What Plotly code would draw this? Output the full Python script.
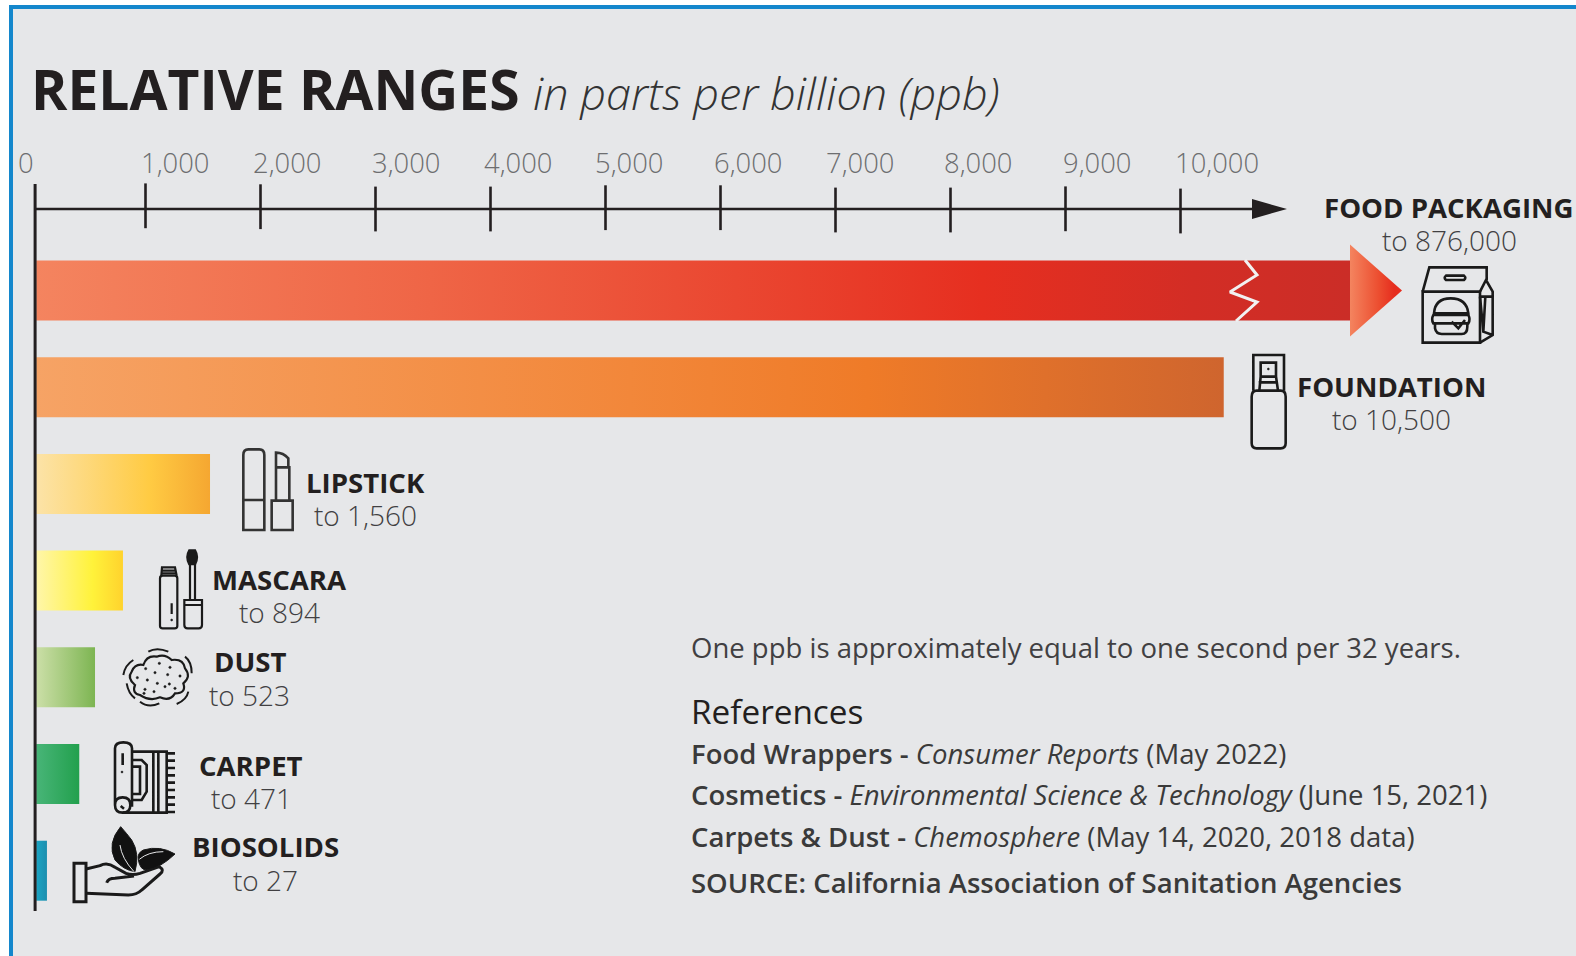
import re, math
import plotly.graph_objects as go

# ---- data ----
categories = ["FOOD PACKAGING", "FOUNDATION", "LIPSTICK", "MASCARA", "DUST", "CARPET", "BIOSOLIDS"]
range_labels = ["to 876,000", "to 10,500", "to 1,560", "to 894", "to 523", "to 471", "to 27"]
bar_start = 50
bar_ends = [11474, 10376, 1561, 804, 561, 424, 143]
axis_ticks = [40, 1000, 2000, 3000, 4000, 5000, 6000, 7000, 8000, 9000, 10000]
axis_tick_labels = ["0", "1,000", "2,000", "3,000", "4,000", "5,000", "6,000", "7,000", "8,000", "9,000", "10,000"]

# ---- styles ----
INK = "#231F20"
BG = "#E6E7E9"
FONT = "Open Sans"
W, H = 1576, 956
gradients = [
    [[0, "#F4845F"], [.3, "#EF6546"], [.72, "#E62F20"], [.88, "#D32D25"], [1, "#CB2D27"]],
    [[0, "#F6A365"], [.5, "#F2873A"], [.7, "#EF7B28"], [1, "#CF652E"]],
    [[0, "#FCE3A8"], [.65, "#FFCB43"], [1, "#F5A731"]],
    [[0, "#FFF6AA"], [.65, "#FFF23A"], [1, "#FFD32D"]],
    [[0, "#CCDFA8"], [1, "#7DB552"]],
    [[0, "#48B578"], [1, "#22A04D"]],
    [[0, "#1AA5C4"], [1, "#1C8EAE"]],
]
Y0, DY = 290.5, 96.7
SX, X0 = 0.115, 30.5


def yval(px):
    return (px - Y0) / DY


def xval(px):
    return (px - X0) / SX


fig = go.Figure()
half = 0.31

# gradient bars
for i, (end, grad) in enumerate(zip(bar_ends, gradients)):
    fig.add_trace(go.Scatter(
        x=[bar_start, end, end, bar_start, bar_start],
        y=[i - half, i - half, i + half, i + half, i - half],
        mode="lines", line=dict(width=0), fill="toself",
        fillgradient=dict(type="horizontal", colorscale=grad, start=bar_start, stop=end),
        hoverinfo="skip", showlegend=False,
    ))

# food packaging arrow head
fig.add_trace(go.Scatter(
    x=[bar_ends[0], xval(1402), bar_ends[0], bar_ends[0]], y=[-0.475, 0, 0.475, -0.475],
    mode="lines", line=dict(width=0), fill="toself",
    fillgradient=dict(type="horizontal", colorscale=[[0, "#F4845F"], [.55, "#EC4E30"], [.85, "#E62D1E"], [1, "#E62D1E"]],
                      start=bar_ends[0], stop=xval(1402)),
    hoverinfo="skip", showlegend=False))

# axis break
fig.add_trace(go.Scatter(
    x=[xval(p) for p in (1245, 1257, 1230, 1257, 1236)],
    y=[yval(p) for p in (260, 275, 292, 302, 321)],
    mode="lines", line=dict(color="#F1F1F1", width=3), hoverinfo="skip", showlegend=False))

# axes
axis_y = yval(209)
tick_center_px = [205.8, 206.7, 209, 209, 207.7, 207.7, 210, 210, 208.8, 211]
fig.add_trace(go.Scatter(x=[axis_ticks[0], xval(1255)], y=[axis_y, axis_y], mode="lines",
                         line=dict(color=INK, width=2.5), hoverinfo="skip", showlegend=False))
fig.add_trace(go.Scatter(x=[axis_ticks[0], axis_ticks[0]], y=[yval(184), yval(911)], mode="lines",
                         line=dict(color=INK, width=3), hoverinfo="skip", showlegend=False))
fig.add_trace(go.Scatter(x=axis_ticks[1:], y=[yval(p) for p in tick_center_px], mode="markers",
                         marker=dict(symbol="line-ns", size=32, line=dict(color=INK, width=2.6)),
                         hoverinfo="skip", showlegend=False))
fig.add_trace(go.Scatter(x=[xval(1252), xval(1287), xval(1252), xval(1252)],
                         y=[yval(199), axis_y, yval(219), yval(199)],
                         mode="lines", line=dict(width=0), fill="toself", fillcolor=INK,
                         hoverinfo="skip", showlegend=False))
# overlay pixel axes carrier for decoration
fig.add_trace(go.Scatter(x=[0], y=[0], xaxis="x2", yaxis="y2", mode="markers", marker=dict(opacity=0),
                         hoverinfo="skip", showlegend=False))

# ---- decoration helpers ----
shapes = [dict(type="rect", xref="x2", yref="y2", x0=11, y0=7, x1=1578, y1=958,
               line=dict(color="#1487CC", width=4), fillcolor=BG, layer="below")]


def icon(ox, oy, d, width=2.6, fill=None, color="#1A1A1A"):
    toks = re.findall(r"[MLQCZ]|-?\d+\.?\d*", d)
    out, k = [], 0
    for t in toks:
        if t.isalpha():
            out.append(t)
            k = 0
        else:
            v = float(t) / 3 + (ox if k % 2 == 0 else oy)
            out.append(f"{v:.2f}")
            k += 1
    shapes.append(dict(type="path", xref="x2", yref="y2", path=" ".join(out), layer="above",
                       line=dict(color=color, width=width),
                       fillcolor=fill if fill else "rgba(0,0,0,0)"))


def dots(ox, oy, pts, r=4):
    for x, y in pts:
        icon(ox, oy, f"M{x-r} {y} Q{x-r} {y-r} {x} {y-r} Q{x+r} {y-r} {x+r} {y} Q{x+r} {y+r} {x} {y+r} Q{x-r} {y+r} {x-r} {y} Z",
             width=0.5, fill="#1A1A1A")


# bag
Z1 = (1150, 180)
icon(*Z1, "M818 335 L990 335 L990 488 L818 488 Z")
icon(*Z1, "M818 335 L838 262 L1010 262 L1010 300 M990 335 L1008 300 L1028 335 L1028 465 L990 488 "
          "M990 350 L1028 350 M1006 350 L1000 455 L1028 465 M990 350 L1000 455")
icon(*Z1, "M888 287 L942 287 Q950 293 942 300 L888 300 Q880 293 888 287 Z")
icon(*Z1, "M852 400 Q855 355 902 355 Q950 355 955 400 Z M850 405 L955 405 Q962 418 955 430 L850 430 Q843 418 850 405 Z "
          "M855 432 L855 445 Q858 462 875 462 L935 462 Q952 462 952 440 L952 432 M905 425 L925 445 L945 420")
# spray bottle
icon(*Z1, "M305 650 Q305 632 320 632 L392 632 Q407 632 407 650 L407 790 Q407 805 392 805 L320 805 Q305 805 305 790 Z")
icon(*Z1, "M310 632 L310 525 L402 525 L402 632 M332 590 L332 548 L378 548 L378 590 M328 632 L332 590 L378 590 L384 632 M326 607 L384 607")
dots(*Z1, [(355, 567)], 3)
# lipstick
Z2 = (0, 430)
icon(*Z2, "M730 300 L730 75 Q730 58 745 58 L778 58 Q793 58 793 75 L793 300 Z M730 210 L793 210", color="#333333")
icon(*Z2, "M815 212 L878 212 L878 300 L815 300 Z M828 212 L828 112 L868 112 L868 212 M828 112 L828 68 Q850 68 865 85 L865 112", color="#333333")
# mascara
icon(*Z2, "M480 445 Q480 437 488 437 L524 437 Q532 437 532 445 L532 588 Q532 595 524 595 L488 595 Q480 595 480 588 Z", width=2.2)
icon(*Z2, "M484 437 L486 412 L525 412 L530 437 M485 422 L527 422 M484 430 L528 430 M515 520 L515 552", width=2.2)
dots(*Z2, [(515, 570)], 3)
icon(*Z2, "M553 510 L606 510 L606 585 Q606 595 596 595 L563 595 Q553 595 553 585 Z M553 525 L606 525 M570 510 L570 400 M585 510 L585 400", width=2.2)
icon(*Z2, "M568 362 L585 362 Q596 380 585 402 L568 402 Q557 380 568 362 Z", fill="#1A1A1A")
# dust
icon(*Z2, "M420 795 Q395 790 405 765 Q380 745 395 725 Q405 700 430 705 Q440 675 470 680 Q495 670 515 690 Q550 685 555 715 "
          "Q575 740 550 760 Q560 790 525 790 Q510 815 480 802 Q450 815 420 795 Z", width=2.2)
icon(*Z2, "M370 735 Q375 705 400 690 M445 665 Q470 650 505 665 M555 680 Q575 695 575 730 M530 822 Q560 810 565 785 "
          "M420 815 Q445 835 478 820 M380 760 Q385 790 405 805", width=2)
dots(*Z2, [(478, 700), (510, 712), (437, 716), (540, 738), (503, 734), (465, 728), (412, 743), (442, 750), (472, 760),
           (508, 762), (435, 778), (462, 785), (525, 775), (495, 770), (432, 790)], 3.5)
# carpet
Z3 = (0, 720)
icon(*Z3, "M345 255 L345 85 Q345 67 370 67 Q396 67 396 85 L396 260 M391 255 Q391 278 368 278 Q345 278 345 255 Q345 232 368 232 Q391 232 391 255 Z")
icon(*Z3, "M396 95 L500 95 L500 278 L368 278 M460 95 L460 278 M475 95 L475 278 M396 120 L425 120 L440 135 L440 215 L425 240 L396 240 "
          "M396 140 L420 140 L420 222 L396 222 M368 100 L368 135 M362 258 L372 266")
icon(*Z3, " ".join(f"M500 {y} L525 {y}" for y in range(100, 280, 22)))
dots(*Z3, [(366, 156)], 3)
# hand and leaves
icon(*Z3, "M222 430 L258 430 L258 545 L222 545 Z", width=3)
icon(*Z3, "M258 447 L300 437 Q322 425 345 442 L378 460 Q398 467 420 460 L478 440 Q495 450 480 462 L425 510 Q410 525 385 525 L258 520 "
          "M320 488 Q325 475 345 475 L402 468", width=3)
icon(*Z3, "M362 320 Q320 370 345 420 Q370 450 405 455 Q420 400 395 360 Q380 340 362 320 Z", fill="#111111", width=1)
icon(*Z3, "M525 402 Q480 375 430 390 Q410 400 415 420 Q420 450 440 450 Q480 445 525 402 Z", fill="#111111", width=1)
icon(*Z3, "M360 375 Q365 415 402 455 M418 418 Q445 395 490 395", color=BG, width=1)

# ---- text ----
ann = []


def txt(x, y, text, size, color=INK, anchor="center", weight=400, style="normal"):
    ann.append(dict(xref="x2", yref="y2", x=x, y=y, text=text, showarrow=False, xanchor=anchor, yanchor="middle",
                    align=anchor, font=dict(family=FONT, size=size, color=color, weight=weight, style=style)))


txt(29, 88, "RELATIVE RANGES", 55.2, anchor="left", weight=700)
txt(531, 92, "in parts per billion (ppb)", 45, anchor="left", weight=300, style="italic", color="#333333")

# tick labels: centred above but shifted from their ticks as in the source artwork
tick_label_px = [26, 175, 287, 406, 518, 629, 748, 860, 978, 1097, 1217]
for lab, px in zip(axis_tick_labels, tick_label_px):
    txt(px, 162, lab, 27.4, color="#6D6E70", weight=300)

label_px = [(1449, 207, 239.5), (1391, 386, 418.5), (365, 481.5, 515), (279.5, 579, 612), (249.5, 661, 695), (251, 765, 798), (265.5, 846, 880)]
for cat, rng, (lx, y1, y2) in zip(categories, range_labels, label_px):
    txt(lx, y1, cat, 27.6, weight=700)
    txt(lx, y2, rng, 28, color="#414042", weight=300)

RX = 689
txt(RX, 647.5, "One ppb is approximately equal to one second per 32 years.", 27.5, color="#414042", anchor="left", weight=400)
txt(RX, 710.5, "References", 33.3, anchor="left", weight=500)
sb = '<span style="font-weight:600">%s</span>'
txt(RX, 753.5, sb % "Food Wrappers - " + "<i>Consumer Reports</i> (May 2022)", 27.5, color="#3A3A3A", anchor="left")
txt(RX, 794.5, sb % "Cosmetics - " + "<i>Environmental Science &amp; Technology</i> (June 15, 2021)", 27.5, color="#3A3A3A", anchor="left")
txt(RX, 836.5, sb % "Carpets &amp; Dust - " + "<i>Chemosphere</i> (May 14, 2020, 2018 data)", 27.5, color="#3A3A3A", anchor="left")
txt(RX, 882, sb % "SOURCE: California Association of Sanitation Agencies", 27.5, color="#3A3A3A", anchor="left")

hidden = dict(visible=False, showgrid=False, zeroline=False, fixedrange=True)
fig.update_layout(
    width=W, height=H, margin=dict(l=0, r=0, t=0, b=0, autoexpand=False),
    paper_bgcolor="white", plot_bgcolor="rgba(0,0,0,0)", showlegend=False, autosize=False,
    xaxis=dict(range=[xval(0), xval(W)], domain=[0, 1], **hidden),
    yaxis=dict(range=[yval(H), yval(0)], domain=[0, 1], **hidden),
    xaxis2=dict(range=[0, W], domain=[0, 1], overlaying="x", anchor="y2", **hidden),
    yaxis2=dict(range=[H, 0], domain=[0, 1], overlaying="y", anchor="x2", **hidden),
    shapes=shapes, annotations=ann,
)
fig.write_html("out.html", config=dict(displayModeBar=False),
               post_script="document.documentElement.style.overflow='hidden';document.body.style.margin='0';document.body.style.overflow='hidden';")
